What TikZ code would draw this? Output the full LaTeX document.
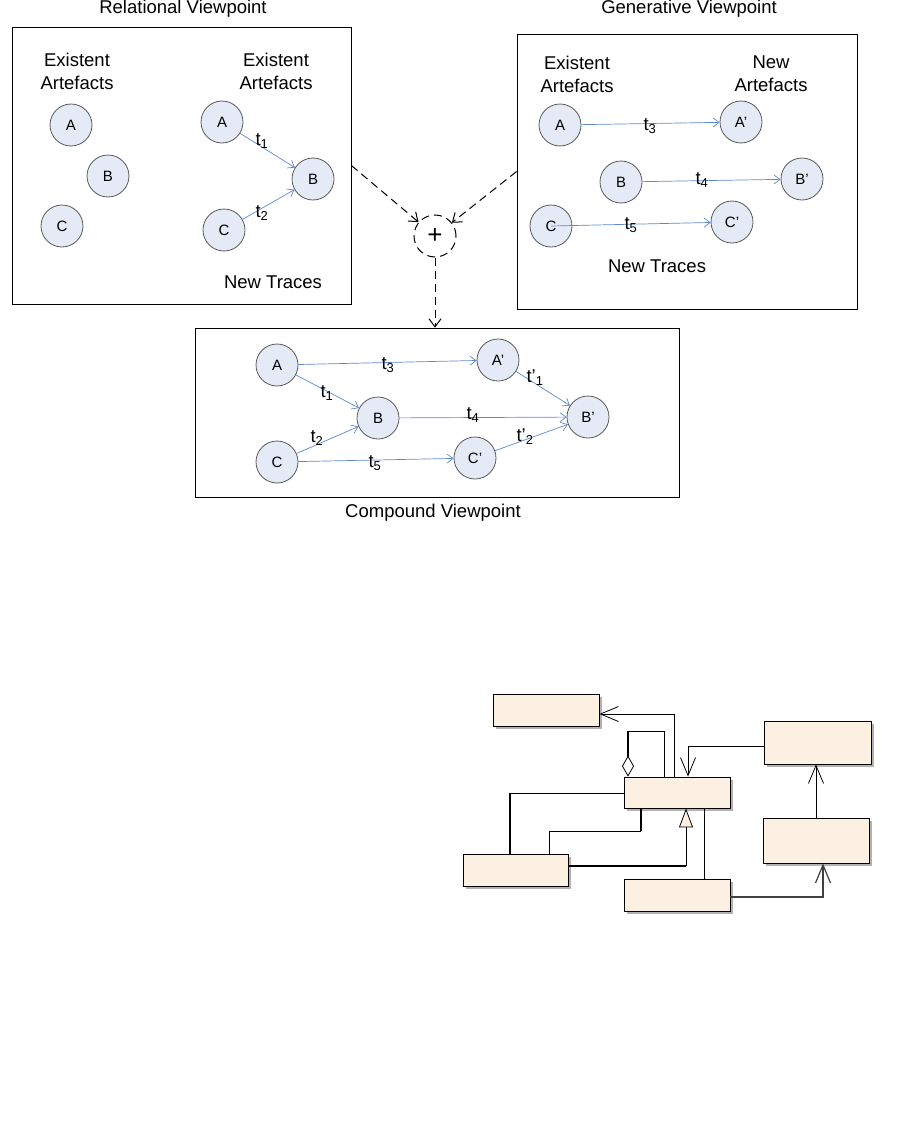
\documentclass[tikz,border=0pt]{standalone}
\usepackage{fontspec}
\setmainfont{Liberation Sans}
\usetikzlibrary{arrows.meta,shadows}
\definecolor{trace}{RGB}{96,136,206}
\definecolor{artfill}{RGB}{229,235,246}
\definecolor{umlfill}{RGB}{251,240,226}
\begin{document}
\begin{tikzpicture}[x=1pt,y=-1pt,line width=.8pt,
  art/.style={circle,draw=black!65,fill=artfill,minimum size=42pt,inner sep=0pt,font=\fontsize{15}{15}\selectfont},
  tr/.style={draw=trace,line width=.7pt,-{Straight Barb[length=6pt,width=9pt]}},
  lbl/.style={font=\fontsize{18.5}{23}\selectfont,align=center,inner sep=0pt},
  vp/.style={draw,inner sep=0pt},
  dsh/.style={dashed,dash pattern=on 8pt off 5pt,line width=1pt,-{Straight Barb[length=8pt,width=12pt]}},
  uml/.style={draw,fill=umlfill,inner sep=0pt,drop shadow={shadow xshift=3pt,shadow yshift=-3pt,fill=black!30,opacity=1}},
  umlarr/.style={-{Straight Barb[length=18pt,width=15pt]}},
  heavy/.style={line width=1.8pt}]
\useasboundingbox (0,0) rectangle (901,1140);

\node[vp,minimum width=339pt,minimum height=277pt] (rel) at (181.5,165.5) {};
\node[vp,minimum width=340pt,minimum height=275pt] (gen) at (687,171.5) {};
\node[vp,minimum width=484pt,minimum height=169pt] (cmp) at (437,412.5) {};
\node[lbl] at (183,9) {Relational Viewpoint};
\node[lbl] at (689,9) {Generative Viewpoint};
\node[lbl] at (433,513) {Compound Viewpoint};

\node[lbl] at (77,71) {Existent\\Artefacts};
\node[lbl] at (276,71) {Existent\\Artefacts};
\node[lbl] at (273,282) {New Traces};
\node[lbl] at (577,74) {Existent\\Artefacts};
\node[lbl] at (771,74) {New\\Artefacts};
\node[lbl] at (657,266) {New Traces};

\foreach \n/\t/\x/\y in {r1A/A/71/125,r1B/B/108/176,r1C/C/62/226,r2A/A/222/122,r2B/B/313/179,r2C/C/224/230,
  gA/A/560/125,gAp/A'/741/122,gB/B/621/182,gBp/B'/802/179,gC/C/551/226,gCp/C'/732/222,
  cA/A/277/365,cAp/A'/498/360,cB/B/378/418,cBp/B'/588/417,cC/C/277/462,cCp/C'/475/458}
  \node[art] (\n) at (\x,\y) {\t};

\draw[tr] (r2A) -- (r2B);
\draw[tr] (r2C) -- (r2B);
\node[lbl] at (262,141) {t\textsubscript{1}};
\node[lbl] at (262,213) {t\textsubscript{2}};

\draw[tr] (gA) -- (gAp);
\draw[tr] (gB) -- (gBp);
\draw[tr] (gC.center) -- (gCp);
\node[lbl] at (650,126) {t\textsubscript{3}};
\node[lbl] at (702,180) {t\textsubscript{4}};
\node[lbl] at (631,225) {t\textsubscript{5}};

\draw[tr] (cA) -- (cAp);
\draw[tr] (cA) -- (cB);
\draw[tr] (cC) -- (cB);
\draw[tr] (cC) -- (cCp);
\draw[tr] (cAp) -- (cBp);
\draw[tr] (cB) -- (cBp);
\draw[tr] (cCp) -- (cBp);
\node[lbl] at (388,365) {t\textsubscript{3}};
\node[lbl] at (535,378) {t'\textsubscript{1}};
\node[lbl] at (327,393) {t\textsubscript{1}};
\node[lbl] at (473,415) {t\textsubscript{4}};
\node[lbl] at (317,438) {t\textsubscript{2}};
\node[lbl] at (525,437) {t'\textsubscript{2}};
\node[lbl] at (375,463) {t\textsubscript{5}};

\node[circle,draw,dashed,dash pattern=on 8pt off 5pt,line width=1pt,minimum size=42pt,inner sep=0pt,font=\fontsize{26}{26}\selectfont] (plus) at (435,236) {+};
\draw[dsh] (rel.east) -- (plus);
\draw[dsh] (gen.west) -- (plus);
\draw[dsh] (plus) -- (plus |- cmp.north);

\foreach \n/\x/\y/\w/\h in {u1/546/710/106/32,u2/817.5/742.5/107/43,u3/677/792.5/106/31,
  u4/816/840.5/106/45,u5/515.5/870/105/32,u6/677/895/106/32}
  \node[uml,minimum width=\w pt,minimum height=\h pt] (\n) at (\x,\y) {};

\coordinate (k1) at (674,714);
\draw[umlarr] (k1 |- u3.north) -- (k1) -- (k1 -| u1.east);
\coordinate (k2) at (628,731);
\coordinate (k3) at (664,731);
\draw (k3 |- u3.north) -- (k3) -- (k2);
\draw[heavy,-{Diamond[length=21pt,width=12pt,fill=white,line width=.8pt]}] (k2) -- (k2 |- u3.north);
\coordinate (k4) at (688,746);
\draw[umlarr] (k4 -| u2.west) -- (k4) -- (k4 |- u3.north);
\draw[umlarr] (u4.north) -- (u4.north |- u2.south);
\coordinate (k5) at (823,897);
\draw[umlarr,draw=black!75,line width=1.2pt] (k5 -| u6.east) -- (k5) -- (k5 |- u4.south);
\coordinate (k6) at (510,793);
\draw (k6 -| u3.west) -- (k6);
\draw[heavy] (k6) -- (k6 |- u5.north);
\coordinate (k7) at (641,831);
\coordinate (k8) at (549,831);
\draw[heavy] (k7 |- u3.south) -- (k7);
\draw (k7) -- (k8) -- (k8 |- u5.north);
\coordinate (k9) at (686,866);
\draw[heavy] (k9 -| u5.east) -- (k9);
\draw[-{Triangle[length=19pt,width=14pt,fill=umlfill]}] (k9) -- (k9 |- u3.south);
\coordinate (k10) at (704,0);
\draw (k10 |- u3.south) -- (k10 |- u6.north);
\end{tikzpicture}
\end{document}
